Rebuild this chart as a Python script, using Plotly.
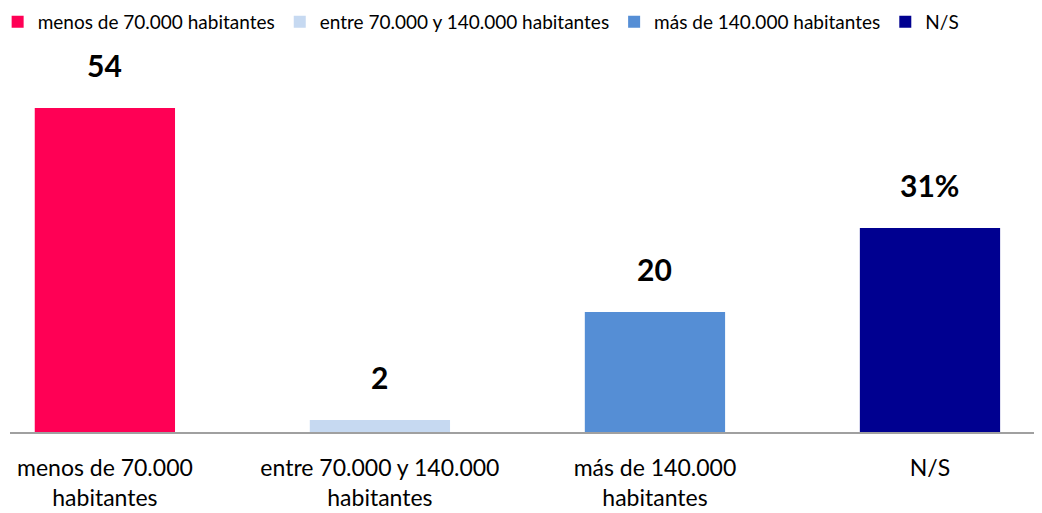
import plotly.graph_objects as go

categorias = [
    "menos de 70.000 habitantes",
    "entre 70.000 y 140.000 habitantes",
    "más de 140.000 habitantes",
    "N/S",
]
etiquetas_eje = [
    "menos de 70.000<br>habitantes",
    "entre 70.000 y 140.000<br>habitantes",
    "más de 140.000<br>habitantes",
    "N/S",
]
valores = [54, 2, 20, 34]
textos = ["54", "2", "20", "31%"]
colores = ["#ff0055", "#c6d9f1", "#558ed5", "#000090"]

fig = go.Figure()
for i, (cat, val, col) in enumerate(zip(categorias, valores, colores)):
    fig.add_trace(
        go.Bar(
            x=[i],
            y=[val],
            name=cat,
            marker=dict(color=col, line=dict(width=0)),
            width=0.51,
            hoverinfo="skip",
        )
    )
    fig.add_annotation(
        x=i,
        y=val,
        text=f"<b>{textos[i]}</b>",
        showarrow=False,
        yanchor="bottom",
        yshift=23,
        font=dict(size=30, color="#000000", family="Lato, sans-serif"),
    )

fig.update_layout(
    width=1042,
    height=513,
    barmode="overlay",
    plot_bgcolor="white",
    paper_bgcolor="white",
    margin=dict(l=2, r=10, t=34, b=89, autoexpand=False),
    font=dict(family="Lato, sans-serif", color="#000000"),
    showlegend=True,
    legend=dict(
        orientation="h",
        x=-0.012,
        y=1.1,
        xanchor="left",
        yanchor="top",
        font=dict(size=19),
        itemwidth=30,
        tracegroupgap=0,
    ),
    xaxis=dict(
        range=[-0.345, 3.4],
        tickvals=list(range(len(categorias))),
        ticktext=etiquetas_eje,
        tickfont=dict(size=23),
        showline=True,
        linecolor="#a0a0a0",
        linewidth=2,
        showgrid=False,
        zeroline=False,
        ticks="",
        ticklabelstandoff=14,
    ),
    yaxis=dict(
        range=[0, 65],
        visible=False,
        showgrid=False,
        zeroline=False,
    ),
)

fig.write_html("out.html")
